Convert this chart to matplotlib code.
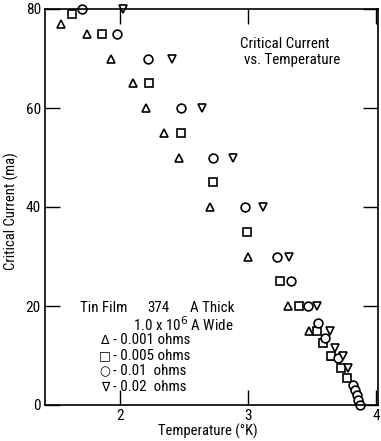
import matplotlib
matplotlib.use('Agg')
import matplotlib.pyplot as plt
from matplotlib import font_manager

names = {f.name for f in font_manager.fontManager.ttflist}
narrow = [n for n in ['DejaVu Sans Condensed', 'Liberation Sans Narrow',
                      'Roboto Condensed', 'Open Sans Condensed'] if n in names]
plt.rcParams['font.family'] = narrow + ['DejaVu Sans']

# 0.001 ohms (triangles)
t_001 = [1.54, 1.74, 1.93, 2.10, 2.20, 2.34, 2.46, 2.70, 3.00, 3.31, 3.48, 3.66]
i_001 = [77, 75, 70, 65, 60, 55, 50, 40, 30, 20, 15, 10]

# 0.005 ohms (squares)
t_005 = [1.625, 1.86, 2.23, 2.48, 2.73, 2.99, 3.25, 3.40, 3.54, 3.59, 3.65, 3.73, 3.77]
i_005 = [79, 75, 65, 55, 45, 35, 25, 20, 15, 12.5, 10, 7.5, 5.5]

# 0.01 ohms (circles)
t_01 = [1.70, 1.98, 2.22, 2.48, 2.73, 2.98, 3.23, 3.34, 3.47, 3.55, 3.60, 3.70,
        3.82, 3.84, 3.85, 3.86, 3.875]
i_01 = [80, 75, 70, 60, 50, 40, 30, 25, 20, 16.5, 13.5, 9.5, 4, 3, 2, 1, 0]

# 0.02 ohms (down triangles)
t_02 = [2.02, 2.41, 2.64, 2.88, 3.12, 3.32, 3.54, 3.64, 3.68, 3.74, 3.78]
i_02 = [80, 70, 60, 50, 40, 30, 20, 15, 11.5, 10, 7.5]

x_ticks = [2, 3, 4]
y_ticks = [0, 20, 40, 60, 80]

fig = plt.figure(figsize=(3.81, 4.41), dpi=100)
ax = fig.add_axes([45 / 381, 36 / 441, 333 / 381, 396 / 441])

style = dict(linestyle='none', mfc='white', mec='black', mew=1.2, ms=6.3,
             clip_on=False)
ax.plot(t_001, i_001, marker='^', **style)
ax.plot(t_005, i_005, marker='s', **dict(style, ms=5.6))
ax.plot(t_01, i_01, marker='o', **style)
ax.plot(t_02, i_02, marker='v', **style)

ax.set_xlim(1.414, 4.016)
ax.set_ylim(0, 80)
ax.set_xticks(x_ticks)
ax.set_yticks(y_ticks)
ax.tick_params(direction='in', length=11, width=1.0, labelsize=11,
               top=True, right=True, pad=3)
for s in ax.spines.values():
    s.set_linewidth(1.2)

ax.set_xlabel('Temperature (°K)', fontsize=10.5)
ax.xaxis.set_label_coords(0.49, -0.048)
ax.set_ylabel('Critical Current (ma)', fontsize=10.5)
ax.yaxis.set_label_coords(-0.078, 0.49)

fs = 10.8
texts = [
    (240, 44, 'Critical Current'),
    (244, 60, 'vs. Temperature'),
    (80, 308, 'Tin Film'),
    (147, 308, '374'),
    (190, 308, 'A Thick'),
    (133, 325, r'1.0 x 10$^6$ A Wide'),
]
for x, y, s in texts:
    ax.text(x, 441 - y, s, transform=None, fontsize=fs, va='center')

legend_syms = ['\u0394', '\u25a1', '\u25cb', '\u2207']
legend_vals = ['- 0.001 ohms', '- 0.005 ohms', '- 0.01  ohms', '- 0.02  ohms']
for k, (sym, val) in enumerate(zip(legend_syms, legend_vals)):
    y = 441 - (340 + 15.7 * k)
    ax.text(105, y, sym, transform=None, fontsize=9, ha='center', va='center',
            family='DejaVu Sans')
    ax.text(113, y, val, transform=None, fontsize=fs, va='center')

fig.savefig('out.png', dpi=100)
